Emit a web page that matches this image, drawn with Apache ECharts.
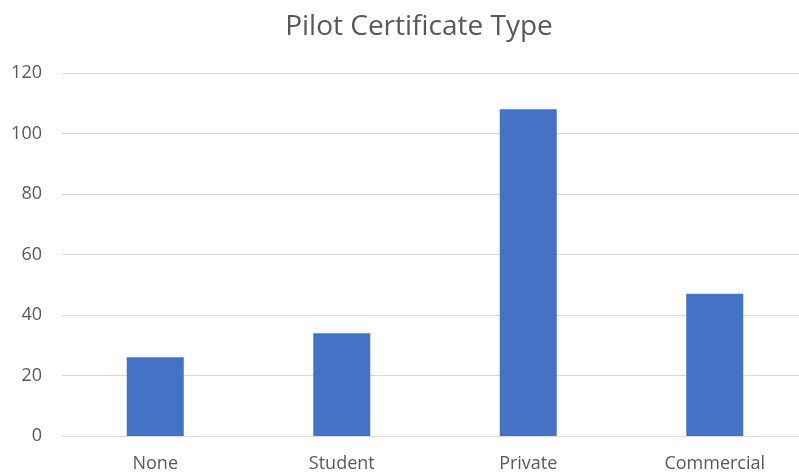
<!DOCTYPE html>
<html>
<head>
<meta charset="utf-8">
<script src="https://cdn.jsdelivr.net/npm/echarts@6/dist/echarts.min.js"></script>
<style>
  html, body { margin: 0; padding: 0; background: #fff; overflow: hidden; }
  /* plot runs slightly past the right edge of the window, clipped */
  #chart { width: 808px; height: 473px; }
</style>
</head>
<body>
<div id="chart"></div>
<script>
// Certificate categories and pilot counts
const categories = ['None', 'Student', 'Private', 'Commercial'];
const counts = [26, 34, 108, 47];

const chart = echarts.init(document.getElementById('chart'));
chart.setOption({
  animation: false,
  title: {
    text: 'Pilot Certificate Type',
    left: 414,
    top: 8,
    textAlign: 'center',
    textStyle: {
      fontFamily: 'Open Sans',
      fontSize: 28,
      fontWeight: 'normal',
      color: '#595959'
    }
  },
  grid: { left: 62, top: 73, right: 0, bottom: 37, containLabel: false },
  xAxis: {
    type: 'category',
    data: categories,
    axisLine: { lineStyle: { color: '#d9d9d9', width: 1 } },
    axisTick: { show: false },
    axisLabel: { color: '#595959', fontFamily: 'Open Sans', fontSize: 18, margin: 19 }
  },
  yAxis: {
    type: 'value',
    min: 0,
    max: 120,
    interval: 20,
    axisLine: { show: false },
    axisTick: { show: false },
    splitLine: { lineStyle: { color: '#d9d9d9', width: 1 } },
    axisLabel: { color: '#595959', fontFamily: 'Open Sans', fontSize: 18, margin: 20 }
  },
  series: [{
    type: 'bar',
    data: counts,
    barWidth: 57,
    itemStyle: { color: '#4472c4' }
  }]
});
</script>
</body>
</html>
